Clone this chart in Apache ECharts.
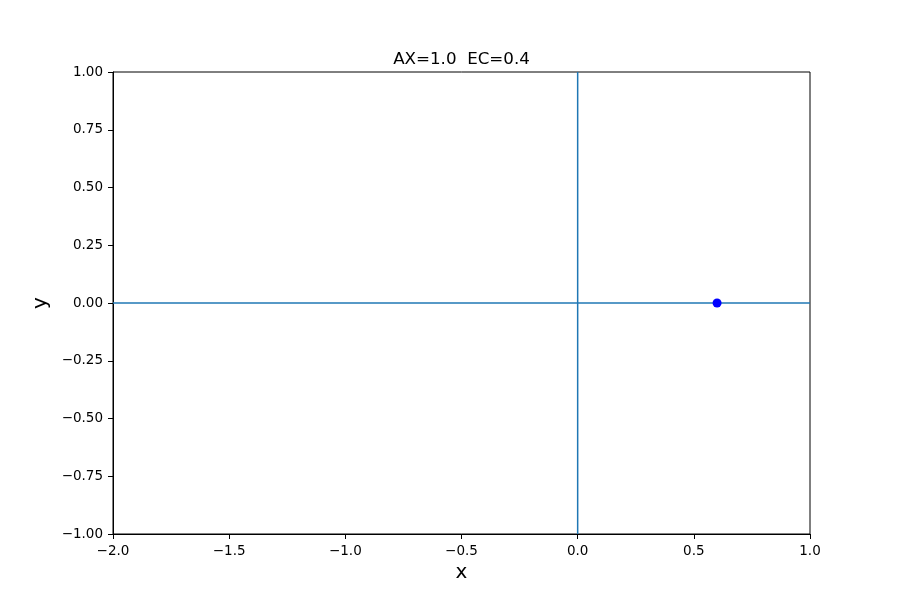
<!DOCTYPE html>
<html>
<head>
<meta charset="utf-8">
<script src="https://cdn.jsdelivr.net/npm/echarts@6/dist/echarts.min.js"></script>
<style>html,body{margin:0;padding:0;background:#fff}#c{width:900px;height:600px}</style>
</head>
<body>
<div id="c"></div>
<script>
const titleText = 'AX=1.0  EC=0.4';
const xRange = [-2, 1];
const yRange = [-1, 1];
const hLine = [[-2, 0], [1, 0]];
const vLine = [[0, -1], [0, 1]];
const points = [[0.6, 0]];

const fmt = (v, d) => (v < 0 ? '\u2212' : '') + Math.abs(v).toFixed(d);
const font = 'DejaVu Sans';
const chart = echarts.init(document.getElementById('c'));
chart.setOption({
  animation: false,
  graphic: [{
    type: 'text', x: 461.5, y: 60,
    style: {text: titleText, fontFamily: font, fontSize: 16.7, fill: '#000', align: 'center', verticalAlign: 'middle'}
  }],
  grid: {left: 113, right: 90, top: 72, bottom: 66, show: true, borderColor: '#000', borderWidth: 1, backgroundColor: 'transparent'},
  xAxis: {
    type: 'value', min: xRange[0], max: xRange[1], interval: 0.5,
    name: 'x', nameLocation: 'middle', nameGap: 29,
    nameTextStyle: {fontFamily: font, fontSize: 20, color: '#000'},
    axisLine: {show: true, onZero: false, lineStyle: {color: '#000', width: 1}},
    axisTick: {show: true, length: 5, lineStyle: {color: '#000'}},
    axisLabel: {fontFamily: font, fontSize: 13.5, color: '#000', margin: 10, formatter: v => fmt(v, 1)},
    splitLine: {show: false}
  },
  yAxis: {
    type: 'value', min: yRange[0], max: yRange[1], interval: 0.25,
    name: 'y', nameLocation: 'middle', nameGap: 60,
    nameTextStyle: {fontFamily: font, fontSize: 20, color: '#000'},
    axisLine: {show: true, onZero: false, lineStyle: {color: '#000', width: 1}},
    axisTick: {show: true, length: 5, lineStyle: {color: '#000'}},
    axisLabel: {fontFamily: font, fontSize: 13.5, color: '#000', margin: 10, formatter: v => fmt(v, 2)},
    splitLine: {show: false}
  },
  series: [
    {type: 'line', data: hLine, showSymbol: false, symbol: 'none', lineStyle: {color: '#1f77b4', width: 1.5}},
    {type: 'line', data: vLine, showSymbol: false, symbol: 'none', lineStyle: {color: '#1f77b4', width: 1.5}},
    {type: 'scatter', data: points, symbol: 'circle', symbolSize: 9, itemStyle: {color: '#0000ff', opacity: 1}, z: 5}
  ]
});
</script>
</body>
</html>
